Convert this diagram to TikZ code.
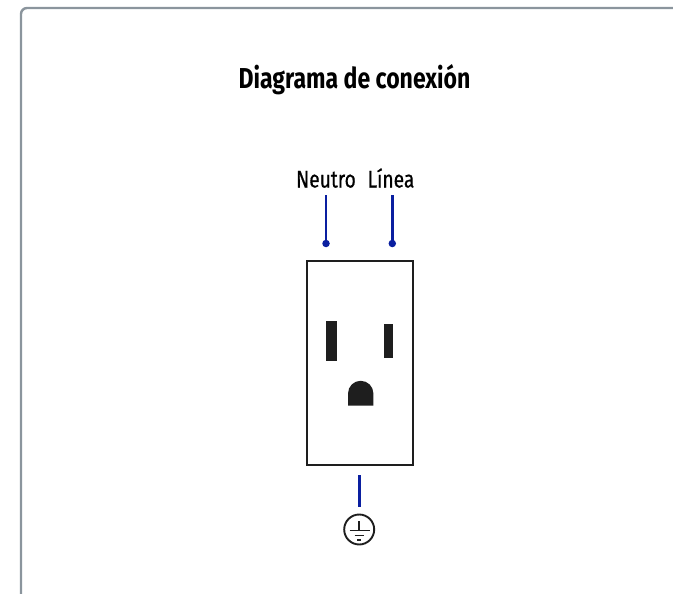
\documentclass[tikz,border=0pt]{standalone}
\usepackage{fontspec}
\setmainfont[FakeStretch=0.8]{Fira Sans}
\definecolor{cardline}{HTML}{8B959D}
\definecolor{wire}{HTML}{0A1FA0}
\definecolor{ink}{HTML}{1E1E1E}
\tikzset{
  card/.style={draw=cardline,line width=2.4pt,rounded corners=6pt},
  plate/.style={draw=ink,line width=2pt,fill=white,minimum width=106pt,minimum height=204pt,inner sep=0pt,outer sep=0pt,rectangle},
  slot/.style={fill=ink,draw=none},
  wireline/.style={draw=wire,line width=2.8pt},
  wiredot/.style={circle,fill=wire,draw=none,minimum size=7.5pt,inner sep=0pt},
  titletext/.style={font=\fontsize{28.8}{32}\selectfont\bfseries,text=black,inner sep=0pt,anchor=base},
  labeltext/.style={font=\fontsize{24}{28}\selectfont\addfontfeature{FakeBold=0.6},text=black,inner sep=0pt,anchor=base},
  earth/.style={draw=ink,line width=1.9pt}
}
\begin{document}
\begin{tikzpicture}[x=1pt,y=-1pt]
\useasboundingbox (0,0) rectangle (673,594);
\begin{scope}
\clip (0,0) rectangle (673,594);
\draw[card] (700,8) -- (21,8) -- (21,620);
\end{scope}
\node[titletext] (title) at (354.5,88.5) {Diagrama de conexión};
\node[labeltext] (neutro) at (326,187.5) {Neutro};
\node[labeltext] (linea) at (391,187.5) {Línea};
\node[plate] (box) at (359.7,363) {};
\coordinate (ntop) at (326,195);
\coordinate (ltop) at (392.3,195);
\node[wiredot] (ndot) at (326,243.5) {};
\node[wiredot] (ldot) at (392.3,243.5) {};
\draw[wireline] (ntop) -- (ndot.center);
\draw[wireline] (ltop) -- (ldot.center);
\fill[slot] (326,321) rectangle (337.3,360.7);
\fill[slot] (384.2,324) rectangle (393.3,357.5);
\fill[slot] (348,405.5) -- (348,393.5) arc[start angle=180,end angle=0,x radius=12.7,y radius=-12.7] -- (373.4,405.5) -- cycle;
\coordinate (gtop) at (359.3,475);
\coordinate (gbot) at (359.3,506.7);
\node[circle,earth,minimum size=30pt,inner sep=0pt,outer sep=0pt] (gnd) at (359.2,529.5) {};
\draw[wireline] (gtop) -- (gbot);
\draw[earth] (359.2,521) -- (359.2,530.5);
\draw[earth] (349.5,530.5) -- (369.5,530.5);
\draw[earth] (354.7,535.5) -- (363.7,535.5);
\draw[earth] (357.2,540) -- (361.2,540);
\end{tikzpicture}
\end{document}
